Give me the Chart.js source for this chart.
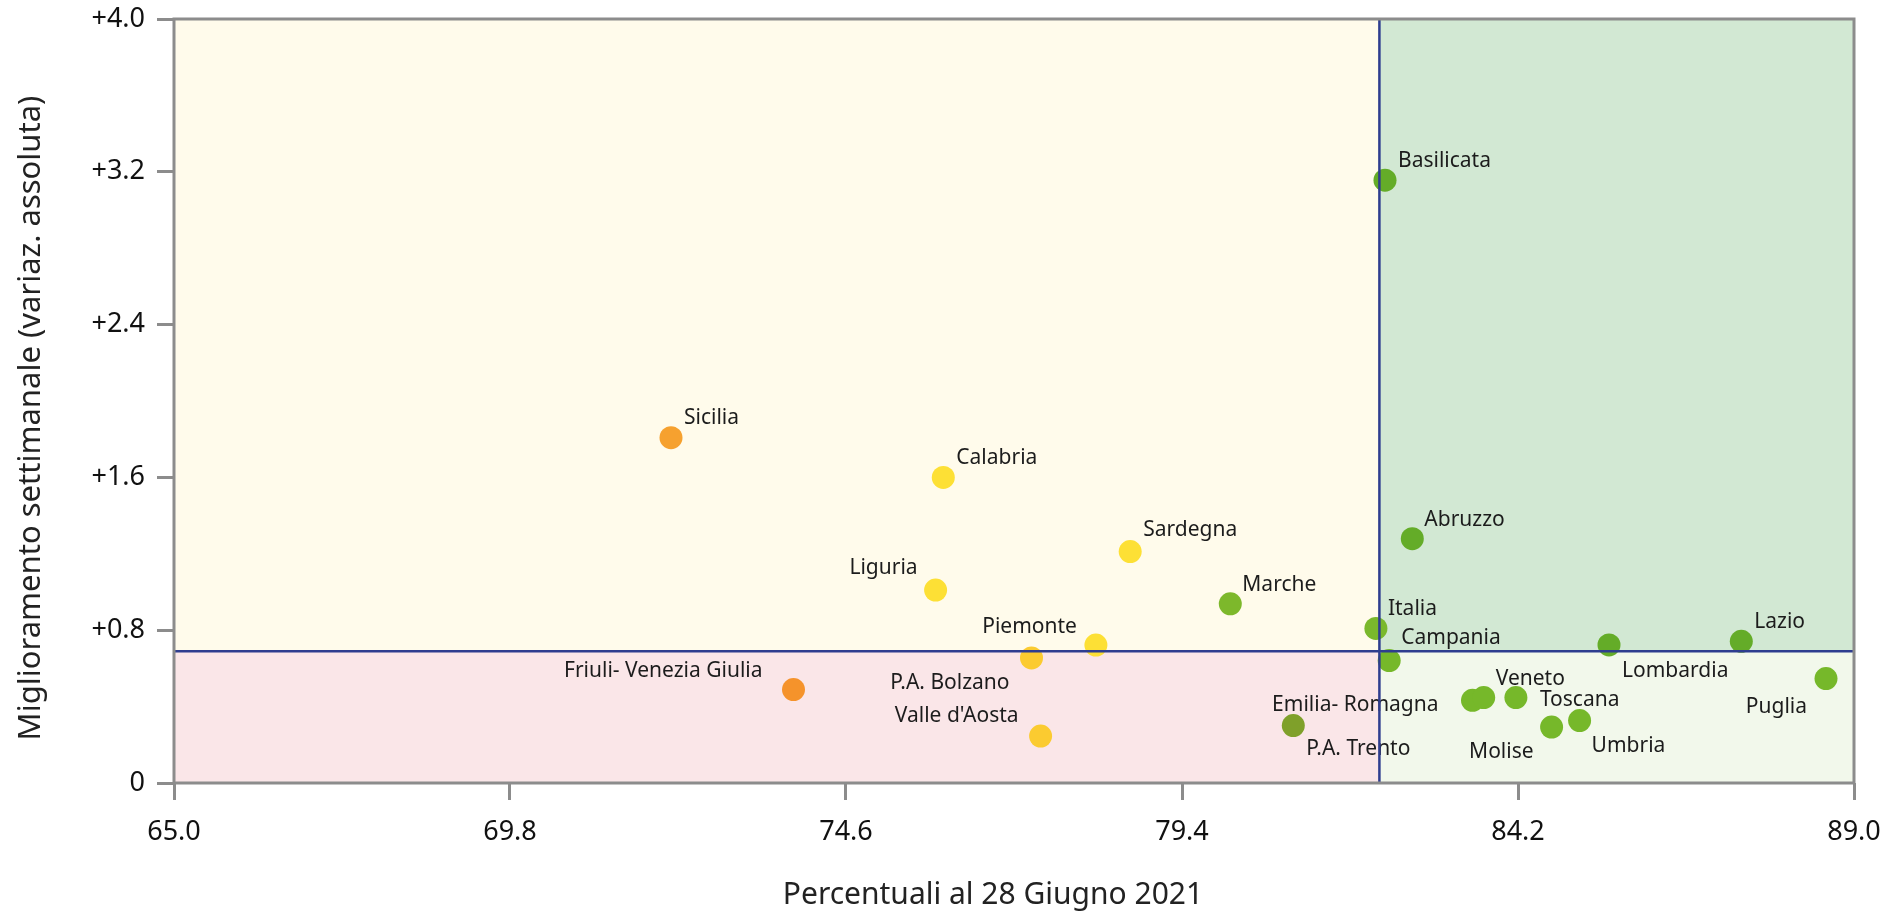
<!DOCTYPE html>
<html>
<head>
<meta charset="utf-8">
<script src="https://cdn.jsdelivr.net/npm/chart.js@4"></script>
<style>
  html, body { margin: 0; padding: 0; background: #fff; }
  canvas { display: block; }
</style>
</head>
<body>
<canvas id="graficoRegioni" width="1885" height="916"></canvas>
<script>
// dati
const regioni = ['Sicilia', 'Calabria', 'Sardegna', 'Liguria', 'Marche', 'Piemonte', 'P.A. Bolzano',
    "Valle d'Aosta", 'Friuli- Venezia Giulia', 'Basilicata', 'Abruzzo', 'Italia', 'Campania',
    'Emilia- Romagna', 'P.A. Trento', 'Veneto', 'Toscana', 'Molise', 'Umbria', 'Lombardia', 'Lazio', 'Puglia'];
const percentuali = [72.10, 75.99, 78.66, 75.88, 80.09, 78.17, 77.25,
    77.38, 73.85, 82.30, 82.69, 82.17, 82.36,
    83.55, 80.99, 83.71, 84.17, 84.68, 85.08, 85.50, 87.39, 88.60];
const miglioramento = [1.808, 1.600, 1.212, 1.010, 0.938, 0.722, 0.655,
    0.246, 0.489, 3.156, 1.279, 0.809, 0.641,
    0.433, 0.301, 0.447, 0.447, 0.293, 0.327, 0.723, 0.742, 0.547];
const tickX = [65.0, 69.8, 74.6, 79.4, 84.2, 89.0];
const tickY = [0, 0.8, 1.6, 2.4, 3.2, 4.0];
const sogliaX = 82.22;
const sogliaY = 0.69;
const titoloX = 'Percentuali al 28 Giugno 2021';
const titoloY = 'Miglioramento settimanale (variaz. assoluta)';

// colori dei punti
const coloriPunti = ['#F6A12F', '#FDE035', '#FDE035', '#FDE035', '#7DB82B', '#FDE035', '#FBCB30',
    '#FBCB30', '#F5932B', '#64AC28', '#64AC28', '#7AB82C', '#76B82A',
    '#76B82A', '#7FA02A', '#76B82A', '#76B82A', '#76B82A', '#76B82A', '#64AC28', '#64AC28', '#76B82A'];

// posizione delle etichette rispetto al punto: [dx, dy, allineamento]
const posEtichette = [[13, -20, 'left'], [13, -19, 'left'], [13, -21, 'left'], [-18, -22, 'right'],
    [12, -19, 'left'], [-19, -18, 'right'], [-22, 25, 'right'], [-22, -20, 'right'], [-31, -19, 'right'],
    [13, -19, 'left'], [12, -19, 'left'], [12, -19, 'left'], [12, -23, 'left'],
    [-34, 5, 'right'], [13, 24, 'left'], [12, -19, 'left'], [24, 2, 'left'], [-18, 25, 'right'],
    [12, 25, 'left'], [13, 26, 'left'], [13, -19, 'left'], [-19, 28, 'right']];

const punti = percentuali.map((v, i) => ({x: v, y: miglioramento[i]}));

const grigio = '#8C8C8C';

const quadranti = {
    id: 'quadranti',
    beforeDatasetsDraw(chart) {
        const {ctx, chartArea: a, scales: {x, y}} = chart;
        const sx = x.getPixelForValue(sogliaX);
        const sy = y.getPixelForValue(sogliaY);
        ctx.save();
        ctx.fillStyle = '#FFFBEB';
        ctx.fillRect(a.left, a.top, sx - a.left, sy - a.top);
        ctx.fillStyle = '#D2E8D3';
        ctx.fillRect(sx, a.top, a.right - sx, sy - a.top);
        ctx.fillStyle = '#FAE6E8';
        ctx.fillRect(a.left, sy, sx - a.left, a.bottom - sy);
        ctx.fillStyle = '#F2F8EB';
        ctx.fillRect(sx, sy, a.right - sx, a.bottom - sy);
        ctx.restore();
    },
    afterDatasetsDraw(chart) {
        const {ctx, chartArea: a, scales: {x, y}} = chart;
        const meta = chart.getDatasetMeta(0);
        ctx.save();
        ctx.font = '21px "Noto Sans"';
        ctx.fillStyle = '#1C1C1C';
        ctx.textBaseline = 'middle';
        meta.data.forEach((pt, i) => {
            const p = posEtichette[i];
            ctx.textAlign = p[2];
            ctx.fillText(regioni[i], pt.x + p[0], pt.y + p[1]);
        });

        // linee di soglia
        const sx = x.getPixelForValue(sogliaX);
        const sy = y.getPixelForValue(sogliaY);
        ctx.strokeStyle = '#2E3D8F';
        ctx.lineWidth = 2.5;
        ctx.beginPath();
        ctx.moveTo(sx, a.top);
        ctx.lineTo(sx, a.bottom);
        ctx.moveTo(a.left, sy);
        ctx.lineTo(a.right, sy);
        ctx.stroke();

        // cornice
        ctx.strokeStyle = grigio;
        ctx.lineWidth = 3;
        ctx.strokeRect(a.left, a.top, a.right - a.left, a.bottom - a.top);

        // titoli degli assi
        ctx.fillStyle = '#222';
        ctx.font = '30px "Noto Sans"';
        ctx.textAlign = 'center';
        ctx.fillText(titoloX, 993, 895);
        ctx.font = '31px "Noto Sans"';
        ctx.translate(31, 418);
        ctx.rotate(-Math.PI / 2);
        ctx.fillText(titoloY, 0, 0);
        ctx.restore();
    }
};

const ctx = document.getElementById('graficoRegioni');

const myChart = new Chart(ctx, {
    type: 'scatter',
    data: {
        datasets: [{
            data: punti,
            backgroundColor: coloriPunti,
            borderWidth: 0,
            pointRadius: 11.5,
            pointHoverRadius: 11.5
        }]
    },
    options: {
        responsive: false,
        devicePixelRatio: 1,
        animation: false,
        events: [],
        layout: {
            padding: {top: 19, right: 31, left: 0, bottom: 0}
        },
        plugins: {
            legend: {display: false},
            tooltip: {enabled: false}
        },
        scales: {
            x: {
                type: 'linear',
                min: 65,
                max: 89,
                afterBuildTicks: s => { s.ticks = tickX.map(v => ({value: v})); },
                afterFit: s => {
                    s.height = 133;
                    s.paddingLeft = 0;
                    s.paddingRight = 0;
                },
                grid: {
                    drawOnChartArea: false,
                    drawTicks: true,
                    tickLength: 17,
                    tickWidth: 3,
                    tickColor: grigio
                },
                border: {display: false},
                ticks: {
                    padding: 16,
                    color: '#111',
                    font: {family: 'Noto Sans', size: 27},
                    maxRotation: 0,
                    callback: v => v.toFixed(1)
                }
            },
            y: {
                type: 'linear',
                min: 0,
                max: 4,
                afterBuildTicks: s => { s.ticks = tickY.map(v => ({value: v})); },
                afterFit: s => {
                    s.width = 174;
                    s.paddingTop = 0;
                    s.paddingBottom = 0;
                },
                grid: {
                    drawOnChartArea: false,
                    drawTicks: true,
                    tickLength: 17,
                    tickWidth: 3,
                    tickColor: grigio
                },
                border: {display: false},
                ticks: {
                    padding: 12,
                    color: '#111',
                    font: {family: 'Noto Sans', size: 27},
                    callback: v => v === 0 ? '0' : '+' + v.toFixed(1)
                }
            }
        }
    },
    plugins: [quadranti]
});
</script>
</body>
</html>
